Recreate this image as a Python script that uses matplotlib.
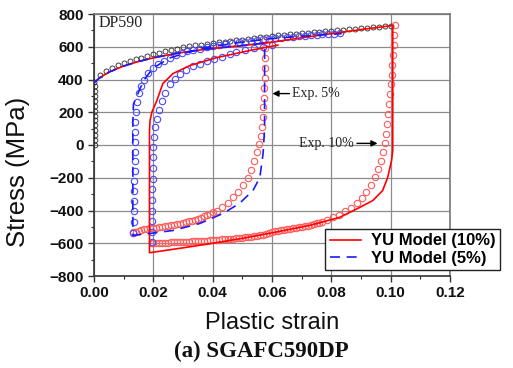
import numpy as np
import matplotlib
matplotlib.use('Agg')
import matplotlib.pyplot as plt

# Experimental monotonic curve (black circles)
mono_el_x = [0.0003] * 13
mono_el_y = [0, 30, 60, 90, 120, 150, 180, 210, 240, 270, 300, 330, 360]
mono_x = [0.000, 0.002, 0.004, 0.006, 0.008, 0.010, 0.012, 0.014, 0.016, 0.018,
          0.020, 0.022, 0.024, 0.026, 0.028, 0.030, 0.032, 0.034, 0.036, 0.038,
          0.040, 0.042, 0.044, 0.046, 0.048, 0.050, 0.052, 0.054, 0.056, 0.058,
          0.060, 0.062, 0.064, 0.066, 0.068, 0.070, 0.072, 0.074, 0.076, 0.078,
          0.080, 0.082, 0.084, 0.086, 0.088, 0.090, 0.092, 0.094, 0.096, 0.098, 0.100]
mono_y = [385, 427, 452, 472, 487, 500, 513, 524, 534, 544,
          553, 562, 571, 580, 588, 596, 603, 608, 613, 618,
          623, 627, 631, 635, 640, 644, 648, 653, 657, 661,
          665, 669, 672, 675, 679, 682, 685, 689, 692, 696,
          699, 702, 705, 708, 710, 713, 716, 719, 722, 724, 727]

# Experimental 10% : reverse loading (red circles)
e10_rev_x = [0.1013, 0.1012, 0.1011, 0.1009, 0.1006, 0.1003, 0.1000, 0.0997, 0.0994, 0.0990,
             0.0987, 0.0984, 0.0980, 0.0975, 0.0968, 0.0958, 0.0946, 0.0933, 0.0918, 0.0902,
             0.0885, 0.0866, 0.0847, 0.0827, 0.0807, 0.0787, 0.0767, 0.0757,
             0.075, 0.074, 0.073, 0.072, 0.071, 0.070, 0.069, 0.068, 0.067, 0.066,
             0.065, 0.064, 0.063, 0.062, 0.061, 0.060, 0.059, 0.058, 0.057, 0.056,
             0.055, 0.054, 0.053, 0.052, 0.051, 0.050, 0.049, 0.048, 0.047, 0.046,
             0.045, 0.044, 0.043, 0.042, 0.041, 0.040, 0.039, 0.038, 0.037, 0.036,
             0.035, 0.034, 0.033, 0.032, 0.031, 0.030, 0.029, 0.028, 0.027, 0.026,
             0.025, 0.024, 0.023, 0.022, 0.021, 0.020, 0.0195]
e10_rev_y = [730, 670, 610, 550, 490, 430, 370, 310, 250, 190,
             130, 70, 15, -40, -95, -148, -198, -245, -287, -325,
             -355, -382, -405, -425, -442, -457, -470, -475,
             -479, -483, -488, -492, -495, -499, -502, -506, -509, -512,
             -515, -518, -521, -524, -527, -532, -537, -542, -547, -551,
             -554, -557, -559, -561, -563, -565, -567, -569, -571, -572,
             -574, -575, -577, -578, -580, -581, -582, -584, -585, -586,
             -587, -588, -589, -590, -591, -592, -593, -594, -594, -595,
             -596, -597, -597, -598, -599, -599, -600]

# Experimental 10% : re-loading (blue circles)
e10_rel_x = [0.0195, 0.0195, 0.0196, 0.0196, 0.0197, 0.0197, 0.0198, 0.0198, 0.0199, 0.0200,
             0.0202, 0.0206, 0.0211, 0.0218, 0.0228, 0.0240, 0.0256, 0.0272, 0.0290, 0.0310,
             0.0335, 0.0357, 0.0380, 0.0405, 0.0430, 0.0458, 0.0480, 0.0510, 0.0540, 0.0570, 0.0600]
e10_rel_y = [-595, -530, -465, -400, -335, -270, -205, -140, -75, -10,
             50, 110, 160, 215, 270, 320, 370, 405, 435, 460,
             482, 497, 512, 526, 540, 556, 567, 580, 592, 601, 610]

# Experimental 5% : reverse loading (red circles)
e5_rev_x = [0.0578, 0.0578, 0.0577, 0.0576, 0.0575, 0.0574, 0.0573, 0.0571, 0.0569, 0.0566,
            0.0562, 0.0556, 0.0549, 0.0540, 0.0530, 0.0518, 0.0503, 0.0487, 0.0470, 0.0452,
            0.0433, 0.0413,
            0.040, 0.039, 0.038, 0.037, 0.036, 0.035, 0.034, 0.033, 0.032, 0.031,
            0.030, 0.029, 0.028, 0.027, 0.026, 0.025, 0.024, 0.023, 0.022, 0.021,
            0.020, 0.019, 0.018, 0.017, 0.016, 0.015, 0.014, 0.0133]
e5_rev_y = [640, 590, 530, 470, 410, 350, 290, 230, 170, 110,
            55, 5, -45, -100, -150, -200, -245, -285, -320, -352,
            -378, -400,
            -412, -421, -429, -436, -443, -450, -456, -462, -467, -472,
            -476, -480, -483, -487, -490, -493, -496, -499, -501, -504,
            -506, -509, -512, -516, -520, -525, -530, -534]

# Experimental 5% : re-loading (blue circles)
e5_rel_x = [0.0133, 0.0135, 0.0135, 0.0136, 0.0136, 0.0136, 0.0137, 0.0137, 0.0137, 0.0138,
            0.0138, 0.0139, 0.0140, 0.0145, 0.0152, 0.0160, 0.0170, 0.0183, 0.0199, 0.0215,
            0.0235, 0.0256, 0.0275, 0.0295, 0.0315, 0.0335, 0.0357, 0.0380, 0.0400, 0.0420,
            0.0440, 0.0465, 0.0490, 0.0510, 0.0530, 0.0550, 0.0570, 0.0590, 0.0610, 0.0630,
            0.0650, 0.0670, 0.0690, 0.0710, 0.0730, 0.0750, 0.0770, 0.0790, 0.0810, 0.0830]
e5_rel_y = [-540, -470, -400, -340, -280, -220, -160, -100, -40, 20,
            80, 140, 200, 260, 315, 360, 400, 440, 470, 492,
            514, 534, 550, 563, 574, 582, 589, 597, 604, 610,
            616, 621, 626, 631, 636, 641, 645, 649, 653, 656,
            659, 662, 665, 668, 670, 673, 675, 678, 680, 683]

# YU model 10% (red line)
m10_x = [0.0, 0.002, 0.005, 0.01, 0.015, 0.02, 0.025, 0.03, 0.04, 0.05, 0.06, 0.07, 0.08, 0.09, 0.1007,
         0.1007, 0.1003, 0.099, 0.0973, 0.094, 0.0896, 0.0828, 0.0727, 0.059, 0.05, 0.04, 0.03, 0.0187,
         0.0187, 0.0189, 0.0195, 0.0212, 0.0232, 0.0266, 0.0323, 0.0414, 0.0525, 0.059, 0.062]
m10_y = [380, 412, 445, 482, 510, 532, 550, 566, 590, 607, 628, 655, 680, 705, 730,
         -34, -95, -198, -278, -339, -381, -442, -491, -540, -570, -600, -628, -658,
         88, 150, 200, 272, 375, 436, 485, 534, 577, 600, 610]

# YU model 5% (blue dashed line)
m5_x = [0.0, 0.002, 0.005, 0.01, 0.015, 0.02, 0.025, 0.03, 0.04, 0.05, 0.0575,
        0.0575, 0.057, 0.0559, 0.0536, 0.049, 0.0435, 0.0357, 0.0266, 0.0189, 0.0131,
        0.0131, 0.0133, 0.0145, 0.0155, 0.0172, 0.0199, 0.0256, 0.0357, 0.049, 0.059, 0.07, 0.0835]
m5_y = [380, 412, 445, 482, 510, 532, 550, 566, 590, 607, 622,
        100, -52, -198, -278, -357, -418, -479, -522, -540, -552,
        150, 250, 300, 345, 405, 470, 532, 589, 626, 648, 664, 680]

sans = 'Liberation Sans'
serif = 'Liberation Serif'

fig = plt.figure(figsize=(5.13, 3.68), dpi=100)
ax = fig.add_axes([94 / 513, 1 - 276 / 368, 356 / 513, 262 / 368])

# experiment circles
ax.plot(mono_el_x, mono_el_y, 'o', mfc='none', mec='#222222', ms=3.4, mew=0.6, zorder=3)
ax.plot(mono_x, mono_y, 'o', mfc='none', mec='#222222', ms=3.6, mew=0.6, zorder=3)
ax.plot(e10_rev_x, e10_rev_y, 'o', mfc='none', mec='#ff5a5a', ms=4.6, mew=0.8, zorder=3)
ax.plot(e5_rev_x, e5_rev_y, 'o', mfc='none', mec='#ff5a5a', ms=4.6, mew=0.8, zorder=3)
ax.plot(e10_rel_x, e10_rel_y, 'o', mfc='none', mec='#4a4aff', ms=4.6, mew=0.8, zorder=3)
ax.plot(e5_rel_x, e5_rel_y, 'o', mfc='none', mec='#4a4aff', ms=4.6, mew=0.8, zorder=3)

# model lines
ax.plot(m10_x, m10_y, '-', color='#ff0000', lw=1.2, zorder=4, label='YU Model (10%)')
ax.plot(m5_x, m5_y, '--', color='#1a1aff', lw=1.2, dashes=(6, 4), zorder=4, label='YU Model (5%)')

ax.set_xlim(0, 0.12)
ax.set_ylim(-800, 800)
ax.set_xticks(np.arange(0, 0.121, 0.02))
ax.set_xticks(np.arange(0, 0.121, 0.01), minor=True)
ax.set_yticks(np.arange(-800, 801, 200))
ax.set_yticks(np.arange(-800, 801, 100), minor=True)
ax.set_xticklabels(['0.00', '0.02', '0.04', '0.06', '0.08', '0.10', '0.12'])
ax.grid(True, which='major', color='#8c8c8c', lw=0.9)
ax.set_axisbelow(True)
ax.tick_params(which='major', direction='out', length=4, width=1, color='#333333', top=False, right=False)
ax.tick_params(which='minor', direction='out', length=2.5, width=0.8, color='#333333', top=False, right=False)
for lab in ax.get_xticklabels() + ax.get_yticklabels():
    lab.set_fontfamily(sans)
    lab.set_fontweight('bold')
    lab.set_fontsize(11)
    lab.set_color('#111111')
for s in ['left', 'bottom']:
    ax.spines[s].set_color('#333333')
    ax.spines[s].set_linewidth(1.2)
for s in ['top', 'right']:
    ax.spines[s].set_color('#777777')
    ax.spines[s].set_linewidth(1.2)

# annotations
ax.text(0.0015, 748, 'DP590', family=serif, fontsize=11.5, ha='left', va='center', color='#222222')
ax.annotate('', xy=(0.0592, 314), xytext=(0.0668, 314),
            arrowprops=dict(arrowstyle='-|>', color='black', lw=1, mutation_scale=9))
ax.text(0.0669, 314, 'Exp. 5%', family=serif, fontsize=10, ha='left', va='center', color='#222222')
ax.annotate('', xy=(0.0965, 10), xytext=(0.0877, 10),
            arrowprops=dict(arrowstyle='-|>', color='black', lw=1, mutation_scale=9))
ax.text(0.0876, 10, 'Exp. 10%', family=serif, fontsize=10, ha='right', va='center', color='#222222')

# legend sticks out past the right edge of the axes
leg = ax.legend(loc='lower right', bbox_to_anchor=(500 / 513, 1 - 270 / 368), bbox_transform=fig.transFigure,
                prop={'family': sans, 'weight': 'bold', 'size': 12}, frameon=True, fancybox=False,
                edgecolor='#222222', framealpha=1, handlelength=1.9, labelspacing=0.15,
                borderpad=0.25, borderaxespad=0, handletextpad=0.6)
leg.get_frame().set_linewidth(1.0)
leg.set_zorder(10)

# labels
fig.text(272 / 513, 1 - 323 / 368, 'Plastic strain', family=sans, fontsize=17, ha='center', va='center', color='#111111')
fig.text(18 / 513, 1 - 172 / 368, 'Stress (MPa)', family=sans, fontsize=18.5, ha='center', va='center',
         rotation=90, color='#111111')
fig.text(261 / 513, 1 - 351 / 368, '(a) SGAFC590DP', family=serif, fontweight='bold', fontsize=16.5,
         ha='center', va='center', color='#111111')

fig.savefig('out.png', dpi=100)
